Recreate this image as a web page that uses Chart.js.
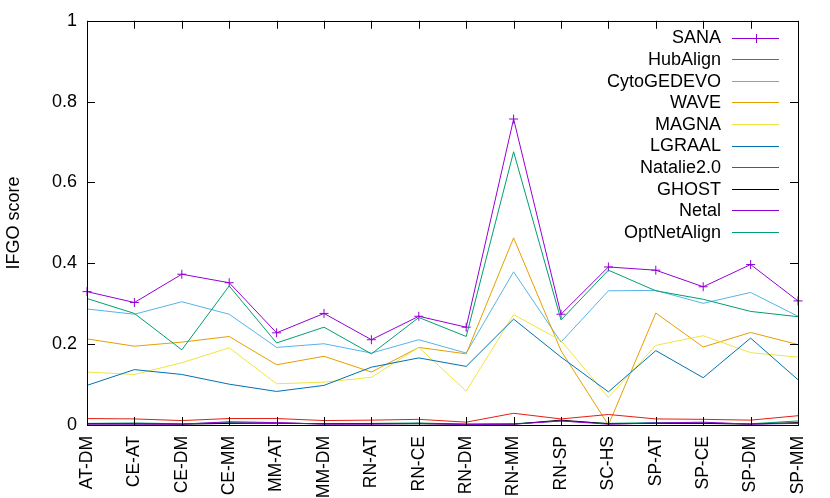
<!DOCTYPE html>
<html lang="en">
<head>
  <meta charset="UTF-8" />
  <title>IFGO score</title>
  <script src="https://cdn.jsdelivr.net/npm/chart.js"></script>
  <style>
    body { margin: 0; background: #fff; }
  </style>
</head>
<body>
  <canvas id="ifgoChart" width="830" height="498"></canvas>

  <script>
    // network pairs on the x axis
    const categories = ['AT-DM', 'CE-AT', 'CE-DM', 'CE-MM', 'MM-AT', 'MM-DM', 'RN-AT', 'RN-CE',
                        'RN-DM', 'RN-MM', 'RN-SP', 'SC-HS', 'SP-AT', 'SP-CE', 'SP-DM', 'SP-MM'];

    // IFGO score per aligner
    const sana        = [0.330, 0.303, 0.373, 0.352, 0.228, 0.276, 0.211, 0.269, 0.242, 0.757, 0.274, 0.391, 0.383, 0.342, 0.397, 0.307];
    const hubAlign    = [0.004, 0.005, 0.003, 0.006, 0.004, 0.003, 0.004, 0.005, 0.002, 0.003, 0.010, 0.004, 0.006, 0.005, 0.003, 0.010];
    const cytoGedevo  = [0.287, 0.274, 0.305, 0.274, 0.192, 0.201, 0.178, 0.211, 0.178, 0.379, 0.205, 0.332, 0.333, 0.301, 0.328, 0.269];
    const wave        = [0.213, 0.195, 0.205, 0.219, 0.149, 0.170, 0.131, 0.192, 0.176, 0.463, 0.184, 0.000, 0.277, 0.193, 0.229, 0.199];
    const magna       = [0.131, 0.125, 0.154, 0.191, 0.102, 0.106, 0.118, 0.192, 0.084, 0.273, 0.209, 0.068, 0.197, 0.221, 0.179, 0.168];
    const lgraal      = [0.098, 0.137, 0.125, 0.101, 0.083, 0.098, 0.143, 0.166, 0.145, 0.262, 0.168, 0.082, 0.184, 0.117, 0.215, 0.112];
    const natalie     = [0.016, 0.015, 0.011, 0.016, 0.016, 0.011, 0.012, 0.014, 0.007, 0.029, 0.015, 0.026, 0.015, 0.014, 0.012, 0.023];
    const ghost       = [0.003, 0.003, 0.002, 0.004, 0.005, 0.003, 0.003, 0.003, 0.002, 0.002, 0.012, 0.003, 0.004, 0.004, 0.002, 0.006];
    const netal       = [0.002, 0.002, 0.002, 0.008, 0.006, 0.002, 0.002, 0.004, 0.001, 0.002, 0.010, 0.002, 0.005, 0.007, 0.002, 0.004];
    const optNetAlign = [0.313, 0.276, 0.186, 0.344, 0.203, 0.242, 0.176, 0.266, 0.219, 0.676, 0.260, 0.383, 0.332, 0.311, 0.281, 0.268];

    const yTicks = [0, 0.2, 0.4, 0.6, 0.8, 1];

    const seriesNames  = ['SANA', 'HubAlign', 'CytoGEDEVO', 'WAVE', 'MAGNA', 'LGRAAL', 'Natalie2.0', 'GHOST', 'Netal', 'OptNetAlign'];
    const seriesData   = [sana, hubAlign, cytoGedevo, wave, magna, lgraal, natalie, ghost, netal, optNetAlign];
    const seriesColors = ['#9400d3', '#009e73', '#56b4e9', '#e69f00', '#f0e442', '#0072b2', '#e51e10', '#000000', '#9400d3', '#009e73'];

    const FONT = "'Liberation Sans', Arial, sans-serif";

    const datasets = seriesNames.map((name, i) => ({
      label: name,
      data: seriesData[i],
      borderColor: seriesColors[i],
      backgroundColor: seriesColors[i],
      borderWidth: 1,
      tension: 0,
      fill: false,
      order: -i,
      pointStyle: 'cross',
      pointRadius: i === 0 ? 4.5 : 0,
      pointBorderWidth: 1
    }));

    // gnuplot style: frame, inward ticks, legend inside top right
    const gnuplotFrame = {
      id: 'gnuplotFrame',
      afterDraw(chart) {
        const ctx = chart.ctx;
        const a = chart.chartArea;
        const xs = chart.scales.x, ys = chart.scales.y;
        const tick = 8;
        ctx.save();
        ctx.strokeStyle = '#000';
        ctx.lineWidth = 1;
        ctx.beginPath();
        xs.ticks.forEach((t, i) => {
          const x = Math.round(xs.getPixelForTick(i)) + 0.5;
          ctx.moveTo(x, a.bottom); ctx.lineTo(x, a.bottom - tick);
          ctx.moveTo(x, a.top); ctx.lineTo(x, a.top + tick);
        });
        ys.ticks.forEach((t, i) => {
          const y = Math.round(ys.getPixelForTick(i)) + 0.5;
          ctx.moveTo(a.left, y); ctx.lineTo(a.left + tick, y);
          ctx.moveTo(a.right, y); ctx.lineTo(a.right - tick, y);
        });
        ctx.stroke();
        ctx.strokeRect(Math.round(a.left) + 0.5, Math.round(a.top) + 0.5,
                       Math.round(a.right - a.left), Math.round(a.bottom - a.top));

        // legend
        ctx.font = '18px ' + FONT;
        ctx.textAlign = 'right';
        ctx.textBaseline = 'middle';
        const textRight = 721, lineL = 732, lineR = 779;
        chart.data.datasets.forEach((ds, i) => {
          const y = 37.5 + i * 21.6;
          ctx.fillStyle = '#000';
          ctx.fillText(ds.label, textRight, y + 1);
          const ly = Math.round(y) + 0.5;
          ctx.strokeStyle = ds.borderColor;
          ctx.beginPath();
          ctx.moveTo(lineL, ly); ctx.lineTo(lineR, ly);
          if (i === 0) {
            const cx = Math.round((lineL + lineR) / 2) + 0.5;
            ctx.moveTo(cx, ly - 4.5); ctx.lineTo(cx, ly + 4.5);
          }
          ctx.stroke();
        });
        ctx.restore();
      }
    };

    new Chart(document.getElementById('ifgoChart').getContext('2d'), {
      type: 'line',
      data: { labels: categories, datasets: datasets },
      options: {
        responsive: false,
        animation: false,
        layout: { padding: { top: 18, right: 30, left: 0, bottom: 0 } },
        plugins: {
          legend: { display: false },
          tooltip: { enabled: false }
        },
        scales: {
          x: {
            offset: false,
            grid: { display: false, drawTicks: false },
            border: { display: false },
            ticks: {
              autoSkip: false,
              minRotation: 90,
              maxRotation: 90,
              padding: 11,
              color: '#000',
              font: { family: FONT, size: 17.5 }
            },
            afterFit: s => { s.height = 73; }
          },
          y: {
            min: 0,
            max: 1,
            grid: { display: false, drawTicks: false },
            border: { display: false },
            afterBuildTicks: s => { s.ticks = yTicks.map(v => ({ value: v })); },
            ticks: {
              padding: 10,
              color: '#000',
              font: { family: FONT, size: 18 },
              callback: v => String(+v.toFixed(1))
            },
            title: {
              display: true,
              text: 'IFGO score',
              color: '#000',
              padding: { top: 3, bottom: 0 },
              font: { family: FONT, size: 18 }
            },
            afterFit: s => { s.width = 87; }
          }
        }
      },
      plugins: [gnuplotFrame]
    });
  </script>
</body>
</html>
